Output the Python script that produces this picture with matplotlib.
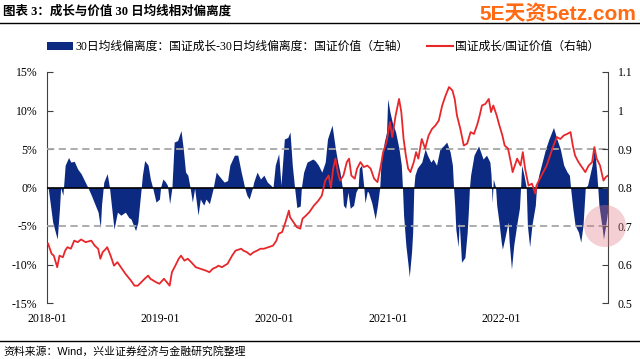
import numpy as np
import pandas as pd
import matplotlib
matplotlib.use('Agg')
import matplotlib.pyplot as plt
import matplotlib.dates as mdates
from matplotlib.patches import Patch, Circle
from matplotlib.lines import Line2D
from matplotlib.ticker import FuncFormatter

plt.rcParams['font.family'] = ['Liberation Serif', 'Noto Sans CJK SC']

# 30日均线偏离度差 (成长 - 价值), %, left axis; time as fractional year
dev_t = [2018.01, 2018.05, 2018.09, 2018.11, 2018.12, 2018.14, 2018.16, 2018.19, 2018.21, 2018.24,
         2018.27, 2018.30, 2018.33, 2018.36, 2018.39, 2018.42, 2018.45, 2018.47, 2018.48, 2018.50,
         2018.53, 2018.55, 2018.59, 2018.62, 2018.65, 2018.69, 2018.72, 2018.74, 2018.78, 2018.80,
         2018.83, 2018.84, 2018.86, 2018.89, 2018.91, 2018.93, 2018.96, 2018.99, 2019.00, 2019.02,
         2019.04, 2019.06, 2019.08, 2019.10, 2019.12, 2019.15, 2019.18, 2019.20, 2019.22, 2019.24,
         2019.26, 2019.28, 2019.30, 2019.33, 2019.35, 2019.38, 2019.40, 2019.43, 2019.46, 2019.49,
         2019.51, 2019.56, 2019.59, 2019.61, 2019.65, 2019.68, 2019.71, 2019.73, 2019.74, 2019.76,
         2019.78, 2019.81, 2019.82, 2019.85, 2019.88, 2019.91, 2019.94, 2019.97, 2019.99, 2020.01,
         2020.04, 2020.06, 2020.09, 2020.12, 2020.14, 2020.16, 2020.18, 2020.20, 2020.23, 2020.24,
         2020.26, 2020.29, 2020.34, 2020.36, 2020.39, 2020.42, 2020.45, 2020.47, 2020.51, 2020.54,
         2020.56, 2020.58, 2020.60, 2020.61, 2020.63, 2020.65, 2020.67, 2020.70, 2020.72, 2020.74,
         2020.75, 2020.77, 2020.79, 2020.80, 2020.82, 2020.83, 2020.86, 2020.89, 2020.91, 2020.93,
         2020.94, 2020.97, 2020.99, 2021.00, 2021.02, 2021.04, 2021.07, 2021.10, 2021.12, 2021.13,
         2021.14, 2021.16, 2021.18, 2021.19, 2021.21, 2021.22, 2021.23, 2021.24, 2021.26, 2021.30,
         2021.33, 2021.35, 2021.38, 2021.40, 2021.43, 2021.46, 2021.49, 2021.52, 2021.55, 2021.57,
         2021.58, 2021.59, 2021.60, 2021.62, 2021.63, 2021.65, 2021.68, 2021.70, 2021.71, 2021.72,
         2021.73, 2021.76, 2021.80, 2021.84, 2021.87, 2021.90, 2021.91, 2021.92, 2021.93, 2021.95,
         2021.96, 2021.98, 2022.00, 2022.01, 2022.03, 2022.06, 2022.07, 2022.09, 2022.11, 2022.14,
         2022.16, 2022.17, 2022.18, 2022.20, 2022.22, 2022.23, 2022.25, 2022.27, 2022.30, 2022.31,
         2022.33, 2022.36, 2022.39, 2022.42, 2022.46, 2022.49, 2022.52, 2022.55, 2022.58, 2022.60,
         2022.61, 2022.63, 2022.65, 2022.68, 2022.70, 2022.72, 2022.74, 2022.76, 2022.80, 2022.82,
         2022.84, 2022.85, 2022.86, 2022.89, 2022.90, 2022.92, 2022.94]
dev_val = [0.0, -4.5, -6.7, -2.7, 0.0, -1.0, 2.9, 3.9, 3.3, 3.4,
           2.4, 1.8, 0.9, 0.0, -1.0, -2.1, -3.2, -5.2, -2.3, 0.7,
           1.8, 0.0, -5.4, -3.2, -3.6, -3.2, -3.9, -4.1, -5.6, -4.5,
           0.0, 1.6, 3.5, 2.9, 1.1, 0.0, -1.9, -1.5, 0.0, 1.1,
           0.8, 0.3, -2.1, 0.0, 5.9, 6.1, 7.4, 5.0, 2.0, 1.6,
           0.0, -1.9, -0.1, -3.6, -1.5, -2.3, -1.5, -2.1, -0.3, 2.0,
           1.6, 0.7, 0.9, 2.9, 4.2, 4.2, 2.0, 0.7, 0.0, -1.0,
           -1.5, 0.0, 0.7, 2.0, 1.1, 1.6, 0.7, 0.3, 0.0, 2.9,
           4.4, 0.3, 6.3, 6.5, 7.2, 2.9, 0.0, -2.6, -2.4, 0.0,
           2.0, 3.3, 3.7, 3.5, 2.9, 2.0, 3.3, 6.3, 8.1, 5.0,
           3.3, 2.0, 0.0, -2.3, -2.7, -0.6, -2.7, -2.3, -0.6, 0.0,
           2.5, 2.9, 0.0, -2.0, -0.5, -0.6, -2.0, -4.1, -2.3, 0.0,
           2.9, 5.9, 7.2, 11.5, 9.8, 8.5, 7.2, 5.0, 2.9, 0.0,
           -3.6, -7.5, -10.1, -11.6, -8.4, -5.8, 0.0, 1.6, 2.5, 3.3,
           5.0, 4.2, 3.3, 3.7, 2.9, 5.0, 5.4, 5.9, 4.6, 2.9,
           0.0, -2.3, -5.4, -7.7, -4.5, -9.7, -9.1, -5.8, -3.2, 0.0,
           1.6, 4.2, 5.4, 3.7, 4.2, 3.3, 1.6, -2.0, 1.1, 0.0,
           -2.3, -4.5, -7.1, -8.0, -6.7, -4.5, -7.1, -10.6, -7.5, -4.5,
           -2.7, 0.0, 2.9, 1.6, 0.0, -4.9, -7.7, -4.9, -2.3, 0.0,
           1.6, 3.3, 5.0, 6.3, 7.8, 6.3, 5.0, 2.9, 2.0, 1.6,
           0.0, -2.7, -4.9, -5.8, -7.1, -4.9, 0.0, 0.3, 2.9, 5.4,
           2.0, 0.0, -2.3, -5.4, -6.7, -4.9, -2.7]

# 国证成长/国证价值, right axis
ratio_t = [2018.01, 2018.04, 2018.06, 2018.09, 2018.11, 2018.14, 2018.16, 2018.18, 2018.21, 2018.24,
           2018.27, 2018.30, 2018.34, 2018.39, 2018.42, 2018.45, 2018.47, 2018.49, 2018.52, 2018.53,
           2018.56, 2018.59, 2018.62, 2018.65, 2018.69, 2018.74, 2018.77, 2018.80, 2018.83, 2018.86,
           2018.89, 2018.91, 2018.96, 2018.99, 2019.03, 2019.08, 2019.10, 2019.13, 2019.16, 2019.18,
           2019.21, 2019.24, 2019.27, 2019.31, 2019.35, 2019.40, 2019.43, 2019.46, 2019.49, 2019.51,
           2019.54, 2019.59, 2019.63, 2019.66, 2019.71, 2019.73, 2019.76, 2019.79, 2019.82, 2019.85,
           2019.88, 2019.91, 2019.95, 2019.99, 2020.02, 2020.04, 2020.07, 2020.10, 2020.13, 2020.14,
           2020.17, 2020.20, 2020.23, 2020.25, 2020.28, 2020.31, 2020.35, 2020.39, 2020.42, 2020.45,
           2020.48, 2020.50, 2020.52, 2020.54, 2020.56, 2020.58, 2020.61, 2020.64, 2020.66, 2020.68,
           2020.71, 2020.73, 2020.76, 2020.79, 2020.82, 2020.85, 2020.88, 2020.91, 2020.94, 2020.96,
           2020.99, 2021.02, 2021.04, 2021.07, 2021.10, 2021.12, 2021.14, 2021.16, 2021.18, 2021.20,
           2021.23, 2021.25, 2021.27, 2021.30, 2021.33, 2021.36, 2021.39, 2021.42, 2021.45, 2021.48,
           2021.51, 2021.54, 2021.57, 2021.59, 2021.61, 2021.64, 2021.67, 2021.70, 2021.73, 2021.76,
           2021.79, 2021.81, 2021.83, 2021.86, 2021.89, 2021.91, 2021.93, 2021.96, 2021.98, 2022.01,
           2022.03, 2022.06, 2022.09, 2022.10, 2022.14, 2022.17, 2022.19, 2022.21, 2022.24, 2022.27,
           2022.30, 2022.31, 2022.34, 2022.37, 2022.40, 2022.43, 2022.46, 2022.49, 2022.52, 2022.55,
           2022.58, 2022.61, 2022.63, 2022.65, 2022.68, 2022.71, 2022.74, 2022.77, 2022.80, 2022.82,
           2022.84, 2022.87, 2022.90, 2022.92, 2022.94]
ratio_val = [0.654, 0.628, 0.623, 0.593, 0.623, 0.619, 0.636, 0.645, 0.641, 0.662,
             0.658, 0.665, 0.658, 0.662, 0.649, 0.641, 0.615, 0.632, 0.641, 0.645,
             0.623, 0.597, 0.606, 0.593, 0.576, 0.558, 0.545, 0.545, 0.554, 0.563,
             0.571, 0.563, 0.554, 0.550, 0.563, 0.545, 0.580, 0.597, 0.615, 0.623,
             0.610, 0.615, 0.606, 0.593, 0.589, 0.584, 0.580, 0.589, 0.593, 0.597,
             0.593, 0.602, 0.623, 0.636, 0.641, 0.636, 0.632, 0.625, 0.632, 0.636,
             0.641, 0.641, 0.645, 0.649, 0.662, 0.680, 0.684, 0.710, 0.740, 0.723,
             0.710, 0.697, 0.693, 0.719, 0.727, 0.736, 0.753, 0.766, 0.779, 0.818,
             0.831, 0.800, 0.849, 0.875, 0.840, 0.818, 0.831, 0.866, 0.875, 0.831,
             0.823, 0.849, 0.866, 0.853, 0.857, 0.849, 0.823, 0.814, 0.857, 0.892,
             0.918, 0.970, 0.931, 0.987, 1.030, 0.996, 0.926, 0.883, 0.849, 0.840,
             0.866, 0.892, 0.875, 0.926, 0.901, 0.935, 0.952, 0.961, 0.974, 1.013,
             1.039, 1.061, 1.052, 1.030, 0.987, 0.952, 0.909, 0.914, 0.944, 0.939,
             0.965, 0.987, 1.013, 1.017, 1.030, 0.996, 1.013, 0.987, 0.965, 0.935,
             0.909, 0.901, 0.857, 0.840, 0.875, 0.857, 0.892, 0.849, 0.805, 0.810,
             0.784, 0.805, 0.823, 0.840, 0.857, 0.883, 0.909, 0.931, 0.926, 0.935,
             0.939, 0.944, 0.909, 0.883, 0.866, 0.853, 0.840, 0.857, 0.866, 0.905,
             0.875, 0.857, 0.818, 0.827, 0.831]

label_dev = '30日均线偏离度：国证成长-30日均线偏离度：国证价值（左轴）'
label_ratio = '国证成长/国证价值（右轴）'
title = '图表 3：成长与价值 30 日均线相对偏离度'
source = '资料来源：Wind，兴业证券经济与金融研究院整理'

navy = '#0D2A82'
red = '#E8272B'


def to_dates(ts):
    base = pd.Timestamp('2018-01-01')
    return base + pd.to_timedelta((np.asarray(ts) - 2018) * 365.25, unit='D')


assert len(dev_t) == len(dev_val)
assert len(ratio_t) == len(ratio_val)
dev_dates = to_dates(dev_t)
ratio_dates = to_dates(ratio_t)

fig = plt.figure(figsize=(6.4, 3.59), dpi=100)
ax = fig.add_axes([47 / 640, 1 - 303 / 359, (608 - 47) / 640, (303 - 72) / 359])

ax.fill_between(dev_dates, 0, np.array(dev_val) / 100, color=navy, lw=0, zorder=2)
for yv in (0.05, -0.05):
    ax.axhline(yv, color='#A6A6A6', ls=(0, (4, 2.5)), lw=1.3, zorder=3)
ax.axhline(0, color='black', lw=1.2, zorder=4)

ax.set_ylim(-0.15, 0.15)
ax.set_yticks(np.linspace(-0.15, 0.15, 7))
ax.yaxis.set_major_formatter(FuncFormatter(lambda v, p: f'{v * 100:.0f}%'))
ax.set_xlim(pd.Timestamp('2018-01-01'), ratio_dates[-1])
ax.set_xticks(pd.to_datetime(['2018-01-01', '2019-01-01', '2020-01-01', '2021-01-01', '2022-01-01']))
ax.xaxis.set_major_formatter(mdates.DateFormatter('%Y-%m'))

ax2 = ax.twinx()
ax2.plot(ratio_dates, ratio_val, color=red, lw=1.3, zorder=5)
ax2.set_ylim(0.5, 1.1)
ax2.set_yticks([0.5, 0.6, 0.7, 0.8, 0.9, 1.0, 1.1])
ax2.yaxis.set_major_formatter(FuncFormatter(lambda v, p: f'{v:g}'))

for s in ('top', 'bottom', 'right'):
    ax.spines[s].set_visible(False)
for s in ('top', 'bottom', 'left'):
    ax2.spines[s].set_visible(False)
ax.spines['left'].set_color('#404040')
ax2.spines['right'].set_color('#404040')

ax.tick_params(axis='y', direction='in', length=4, width=0.8, color='#404040', labelsize=8.5, pad=7)
ax.tick_params(axis='x', length=0, labelsize=8.5, pad=7)
ax2.tick_params(axis='y', direction='in', length=4, width=0.8, color='#404040', labelsize=8.5, pad=7)

handles = [Patch(facecolor=navy, edgecolor='none'), Line2D([], [], color=red, lw=1.5)]
fig.legend(handles, [label_dev, label_ratio], loc='center', bbox_to_anchor=(0.505, 1 - 47 / 359),
           ncol=2, frameon=False, fontsize=8.5, handlelength=2.2, handleheight=0.6,
           columnspacing=1.6, handletextpad=0.15, borderaxespad=0)

fig.text(3 / 640, 1 - 11 / 359, title, fontsize=9, fontweight='bold', ha='left', va='center')
fig.text(636 / 640, 1 - 15 / 359, '5E天资5etz.com', color='#FF6A13', fontsize=15, fontweight='bold',
         ha='right', va='center', family=['Liberation Sans', 'Noto Sans CJK SC'])
fig.add_artist(Line2D([0, 1], [1 - 22.5 / 359] * 2, color='black', lw=1.0, transform=fig.transFigure))
fig.add_artist(Line2D([0, 1], [1 - 341 / 359] * 2, color='black', lw=1.0, transform=fig.transFigure))
fig.text(3 / 640, 1 - 351 / 359, source, fontsize=7.8, ha='left', va='center',
         family=['Liberation Sans', 'Noto Sans CJK SC'])

fig.add_artist(Circle((6.05, (359 - 226) / 100), 0.21, transform=fig.dpi_scale_trans,
                      facecolor='#E07A86', edgecolor='none', alpha=0.35, zorder=10))

fig.savefig('out.png', dpi=100)
plt.close(fig)
